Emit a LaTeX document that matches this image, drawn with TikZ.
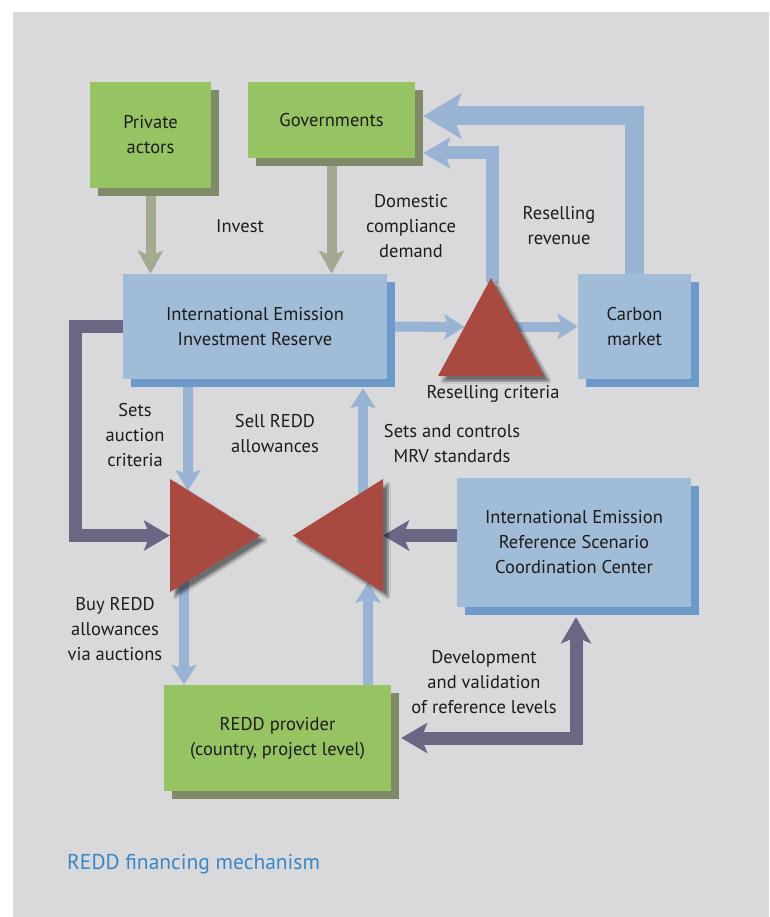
\documentclass[tikz,border=0pt]{standalone}
\usepackage{fontspec}
\setmainfont{PT Sans}
\usetikzlibrary{positioning, arrows.meta, calc, backgrounds, shadows, shadows.blur}

\definecolor{panelgray}{HTML}{D9D9DB}
\definecolor{boxgreen}{HTML}{97C463}
\definecolor{greenshade}{HTML}{7F8B68}
\definecolor{boxblue}{HTML}{A0BCD6}
\definecolor{blueshade}{HTML}{6E9ACB}
\definecolor{flowblue}{HTML}{98B3D3}
\definecolor{flowsage}{HTML}{A2AA92}
\definecolor{flowpurple}{HTML}{6A6683}
\definecolor{gatered}{HTML}{A84A40}
\definecolor{titleblue}{HTML}{3A87C8}
\definecolor{inkgray}{HTML}{1E1B1C}

\begin{document}
\begin{tikzpicture}[
  x=1pt, y=-1pt,
  font=\fontsize{18.5}{25}\selectfont, text=inkgray,
  gbox/.style={fill=boxgreen, inner sep=0pt, align=center,
               general shadow={fill=greenshade, shadow xshift=8pt, shadow yshift=-8pt}},
  bbox/.style={fill=boxblue, inner sep=0pt, align=center,
               general shadow={fill=blueshade, shadow xshift=8pt, shadow yshift=-8pt}},
  gate/.style={fill=gatered, blur shadow={shadow xshift=5pt, shadow yshift=-5pt,
               shadow blur steps=8, shadow opacity=50}},
  lbl/.style={align=center, inner sep=0pt},
  sage/.style={draw=flowsage, line width=10pt, -{Stealth[length=23pt, width=25pt, inset=5pt]}},
  thinflow/.style={draw=flowblue, line width=10pt, -{Stealth[length=20pt, width=25pt, inset=4pt]}},
  midflow/.style={draw=flowblue, line width=13pt, -{Stealth[length=27pt, width=31pt, inset=6pt]}},
  wideflow/.style={draw=flowblue, line width=19pt, -{Stealth[length=38pt, width=45pt, inset=8pt]}},
  control/.style={draw=flowpurple, line width=13pt},
  ctip/.tip={Stealth[length=26pt, width=30pt, inset=6pt]},
]
  \useasboundingbox (0,0) rectangle (769,917);

  % Actors
  \node[gbox, minimum width=121pt, minimum height=106pt] (pa)   at (150.5,135) {Private\\actors};
  \node[gbox, minimum width=167pt, minimum height=76pt]  (gov)  at (331.5,120) {Governments};
  \node[gbox, minimum width=227pt, minimum height=106pt] (prov) at (277.5,738) {REDD provider\\(country, project level)};

  % Institutions
  \node[bbox, minimum width=264pt, minimum height=105pt] (ieir) at (255,326.5) {International Emission\\Investment Reserve};
  \node[bbox, minimum width=113pt, minimum height=105pt] (cm)   at (634.5,326.5) {Carbon\\market};
  \node[bbox, minimum width=234pt, minimum height=129pt] (ref)  at (574,542.5) {International Emission\\Reference Scenario\\Coordination Center};

  % Triangle corners
  \coordinate (ua) at (491,278);   \coordinate (ul) at (438,376); \coordinate (ur) at (544,376);
  \coordinate (la) at (260,535.5); \coordinate (lt) at (170,479); \coordinate (lb) at (170,592);
  \coordinate (ra) at (293,535.5); \coordinate (rt) at (383,479); \coordinate (rb) at (383,592);
  \coordinate (buy)  at (184,560);
  \coordinate (sell) at (363,540);

  \fill[gate] (ul) -- (ua) -- (ur) -- cycle;
  \fill[gate] (lt) -- (la) -- (lb) -- cycle;
  \fill[gate] (rt) -- (ra) -- (rb) -- cycle;

  \begin{scope}[on background layer]
    \fill[white] (0,0) rectangle (769,917);
    \fill[panelgray] (13,12) rectangle (769,917);

    % Investment flows
    \foreach \s in {pa,gov} { \draw[sage] (\s.south) -- (\s.south |- ieir.north); }

    % Reselling
    \draw[midflow]  ($(ua)+(1,5)$) |- ([shift={(8,33)}]gov.east);
    \draw[wideflow] (cm.north) |- ([shift={(8,-4)}]gov.east);
    \draw[thinflow] (ieir.east) -- ($(ul)!0.5!(ua)$);
    \draw[thinflow] (ua |- cm.west) -- (cm.west);

    % Auctions
    \draw[thinflow] ([xshift=-67pt]ieir.south) -- ($(lt)!0.2!(la)$);
    \draw[thinflow] (buy) -- (buy |- prov.north);
    \draw[thinflow] ([xshift=90.5pt]prov.north) -- ($(rb)!0.1667!(ra)$);
    \draw[thinflow] (sell) -- ([shift={(108,9)}]ieir.south);

    % Control flows
    \draw[control, -ctip] (ieir.west) -- ++(-47,0) |- ($(lt)!0.5!(lb)$);
    \draw[control, -ctip] (ref.west |- ra) -- ($(rt)!0.5!(rb)$);
    \draw[control, ctip-ctip] ([xshift=10pt]prov.east) -| ([shift={(2,10)}]ref.south);
  \end{scope}

  % Labels
  \node[lbl] (l-inv)  at (240,226) {Invest};
  \node[lbl] (l-dom)  at (411,226) {Domestic\\compliance\\demand};
  \node[lbl] (l-rev)  at (559,226) {Reselling\\revenue};
  \node[lbl] (l-crit) at (493,394) {Reselling criteria};
  \node[lbl] (l-auc)  at (135,435) {Sets\\auction\\criteria};
  \node[lbl] (l-sell) at (275,434) {Sell REDD\\allowances};
  \node[lbl] (l-mrv)  at (452,444) {Sets and controls\\MRV standards};
  \node[lbl] (l-buy)  at (115,629) {Buy REDD\\allowances\\via auctions};
  \node[lbl] (l-dev)  at (484,682) {Development\\and validation\\of reference levels};

  \node[anchor=base west, inner sep=0pt, text=titleblue, font=\fontsize{21.5}{24}\selectfont] (title) at (67,869) {REDD financing mechanism};
\end{tikzpicture}
\end{document}
